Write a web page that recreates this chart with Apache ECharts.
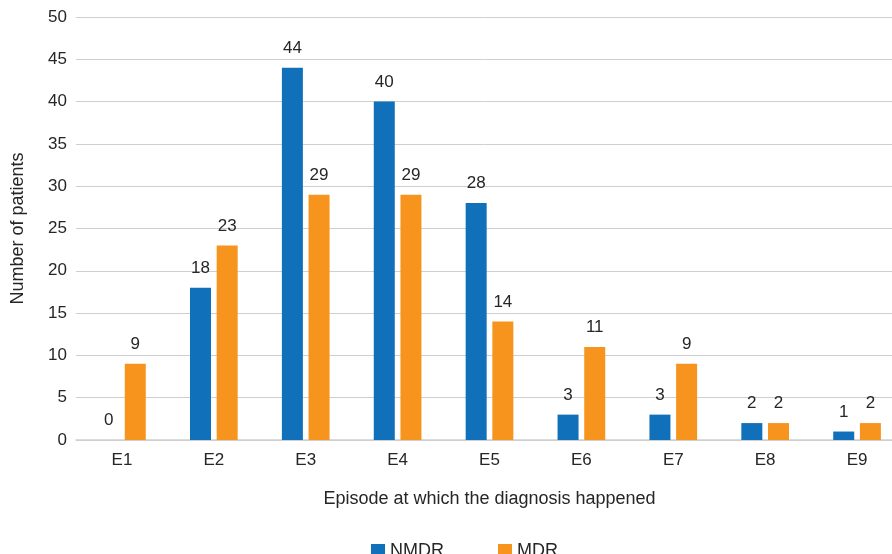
<!DOCTYPE html>
<html><head><meta charset="utf-8">
<script src="https://cdn.jsdelivr.net/npm/echarts@6/dist/echarts.min.js"></script>
<style>html,body{margin:0;padding:0;background:#fff}#c{width:892px;height:554px}</style>
</head><body><div id="c"></div>
<script>
const categories = ['E1','E2','E3','E4','E5','E6','E7','E8','E9'];
const nmdr = [0,18,44,40,28,3,3,2,1];
const mdr = [9,23,29,29,14,11,9,2,2];
const yTicks = {min:0, max:50, interval:5};
const chart = echarts.init(document.getElementById('c'));
const font = 'Liberation Sans, Arial, sans-serif';
const lbl = {show:true, position:'top', distance:11, color:'#262626', fontSize:17, fontFamily:font};
chart.setOption({
  animation:false,
  textStyle:{fontFamily:font},
  grid:{left:76, top:17, width:827, height:423, containLabel:false, outerBoundsMode:'none'},
  legend:{top:537, left:366, itemWidth:14, itemHeight:14, itemGap:54, icon:'rect',
    textStyle:{fontSize:18, color:'#262626', fontFamily:font}, data:['NMDR','MDR']},
  xAxis:{type:'category', data:categories,
    name:'Episode at which the diagnosis happened', nameLocation:'middle', nameGap:50,
    nameTextStyle:{fontSize:18, color:'#262626', fontFamily:font},
    axisLine:{lineStyle:{color:'#cfcfcf', width:1.5}}, axisTick:{show:false},
    axisLabel:{fontSize:17, color:'#262626', margin:12, fontFamily:font}},
  yAxis:{type:'value', min:yTicks.min, max:yTicks.max, interval:yTicks.interval,
    name:'Number of patients', nameLocation:'middle', nameGap:49, nameRotate:90,
    nameTextStyle:{fontSize:18, color:'#262626', fontFamily:font},
    axisLine:{show:false}, axisTick:{show:false},
    splitLine:{lineStyle:{color:'#cfcfcf', width:1}},
    axisLabel:{fontSize:17, color:'#262626', margin:9, fontFamily:font}},
  series:[
    {name:'NMDR', type:'bar', data:nmdr, barWidth:21, barGap:'27%',
     itemStyle:{color:'#1170BA'}, label:lbl},
    {name:'MDR', type:'bar', data:mdr, barWidth:21, barGap:'27%',
     itemStyle:{color:'#F7941E'}, label:lbl}
  ]
});
</script></body></html>
